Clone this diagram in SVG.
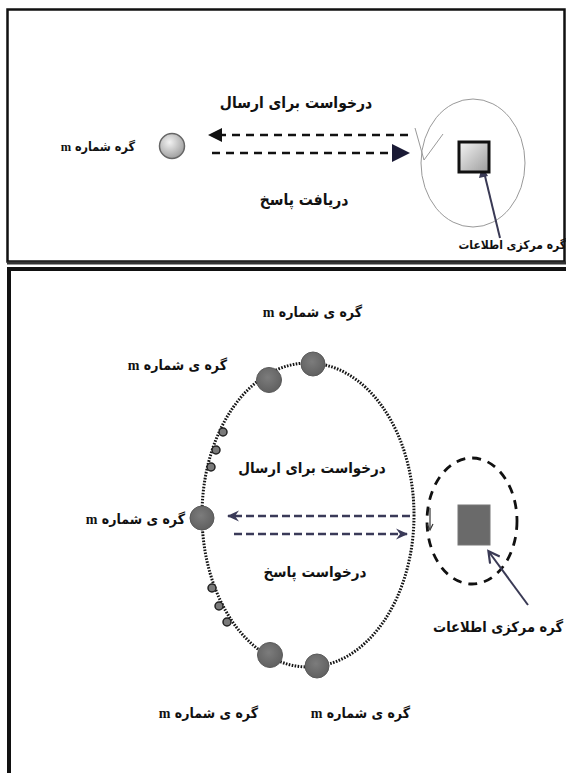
<svg xmlns="http://www.w3.org/2000/svg" width="566" height="773" viewBox="0 0 566 773">
<defs>
<style>
.fa{font-family:"DejaVu Sans Condensed","DejaVu Sans",sans-serif;font-weight:bold;fill:#111;direction:rtl}
.m{font-family:"Liberation Serif",serif;font-weight:bold}
.dash1{stroke:#111;stroke-width:2.5;stroke-dasharray:8 6;fill:none}
.dash2{stroke:#3a3a58;stroke-width:2.4;stroke-dasharray:8 4;fill:none}
.big{fill:url(#gNode);stroke:#5a5a5a;stroke-width:1}
.small{fill:#7a7a7a;stroke:#222;stroke-width:1.5}
</style>
<radialGradient id="gCirc" cx="0.4" cy="0.35" r="0.7">
<stop offset="0" stop-color="#f2f2f2"/><stop offset="1" stop-color="#9a9a9a"/>
</radialGradient>
<linearGradient id="gSq" x1="0" y1="0" x2="1" y2="1">
<stop offset="0" stop-color="#f5f5f5"/><stop offset="1" stop-color="#9c9c9c"/>
</linearGradient>
<radialGradient id="gNode" cx="0.45" cy="0.4" r="0.65">
<stop offset="0" stop-color="#7c7c7c"/><stop offset="1" stop-color="#5e5e5e"/>
</radialGradient>
<marker id="chev" markerWidth="14" markerHeight="14" refX="12" refY="7" orient="auto" markerUnits="userSpaceOnUse">
<path d="M1,1.5 L13,7 L1,12.5 L5,7 Z" fill="#3a3a58"/>
</marker>
<marker id="ptr" markerWidth="14" markerHeight="14" refX="11" refY="7" orient="auto" markerUnits="userSpaceOnUse">
<path d="M1,1 L12,7 L1,13" fill="none" stroke="#3a3a55" stroke-width="2.2"/>
</marker>
</defs>

<!-- panel frames -->
<g id="frames">
<rect x="7.5" y="9.5" width="557" height="252" fill="none" stroke="#111" stroke-width="2.5"/>
<line x1="7" y1="263" x2="566" y2="263" stroke="#333" stroke-width="3"/>
<line x1="7" y1="269" x2="566" y2="269" stroke="#111" stroke-width="4"/>
<line x1="9" y1="269" x2="9" y2="773" stroke="#111" stroke-width="4"/>
</g>

<!-- ===== top panel ===== -->
<g id="top-connectors">
<line class="dash1" x1="408" y1="135" x2="222" y2="135"/>
<path d="M208,135 L222,128 L222,142 Z" fill="#111"/>
<line class="dash1" x1="212" y1="153" x2="392" y2="153"/>
<path d="M410,153 L392,144 L392,162 Z" fill="#1a1a35"/>
<ellipse cx="473" cy="163" rx="52" ry="64" fill="none" stroke="#999" stroke-width="1"/>
<path d="M415,128 L424,160 L443,134" fill="none" stroke="#999" stroke-width="1"/>
<line x1="500" y1="238" x2="484" y2="172" stroke="#3a3a55" stroke-width="2"/>
<path d="M482,166 L479,178 L488,176 Z" fill="#3a3a55"/>
</g>
<g id="top-node-m">
<circle cx="172" cy="146" r="12.5" fill="url(#gCirc)" stroke="#666" stroke-width="1.5"/>
<text class="fa" x="135" y="151" font-size="12.5" text-anchor="start">گره شماره <tspan class="m">m</tspan></text>
</g>
<g id="top-center-node">
<rect x="459" y="142" width="30" height="30" fill="url(#gSq)" stroke="#111" stroke-width="3"/>
<text class="fa" x="566" y="249" font-size="12" text-anchor="start">گره مرکزی اطلاعات</text>
</g>
<g id="top-labels">
<text class="fa" x="296" y="108" font-size="15.5" text-anchor="middle">درخواست برای ارسال</text>
<text class="fa" x="304" y="205" font-size="15.5" text-anchor="middle">دریافت پاسخ</text>
</g>

<!-- ===== bottom panel ===== -->
<g id="bottom-connectors">
<ellipse cx="308" cy="515" rx="106" ry="152" fill="none" stroke="#151515" stroke-width="3" stroke-dasharray="1.6 1.4"/>
<ellipse cx="472" cy="521" rx="45" ry="63" fill="none" stroke="#111" stroke-width="2.8" stroke-dasharray="9 7"/>
<line class="dash2" x1="410" y1="516" x2="228" y2="516" marker-end="url(#chev)"/>
<line class="dash2" x1="234" y1="534" x2="407" y2="534" marker-end="url(#chev)"/>
<line x1="430" y1="508" x2="430" y2="528" stroke="#333" stroke-width="1.2"/>
<path d="M427,524 L430,530 L433,524" fill="none" stroke="#333" stroke-width="1.2"/>
<line x1="528" y1="605" x2="489" y2="552" stroke="#3a3a55" stroke-width="2" marker-end="url(#ptr)"/>
</g>
<g id="ring-nodes">
<circle class="big" cx="313" cy="364" r="12"/>
<circle class="big" cx="269" cy="380" r="12.5"/>
<circle class="big" cx="202" cy="518" r="12"/>
<circle class="big" cx="270" cy="655" r="12.5"/>
<circle class="big" cx="317" cy="666" r="12"/>
<circle class="small" cx="223" cy="432" r="4"/>
<circle class="small" cx="216" cy="450" r="4"/>
<circle class="small" cx="211" cy="467" r="4"/>
<circle class="small" cx="212" cy="588" r="4"/>
<circle class="small" cx="219" cy="606" r="4"/>
<circle class="small" cx="227" cy="622" r="4"/>
</g>
<g id="bottom-center-node">
<rect x="458" y="505" width="32" height="40" fill="#6a6a6a" stroke="#777" stroke-width="1"/>
<text class="fa" x="563" y="632" font-size="14.5" text-anchor="start">گره مرکزی اطلاعات</text>
</g>
<g id="bottom-labels">
<text class="fa" x="362" y="317" font-size="14" text-anchor="start">گره ی شماره <tspan class="m">m</tspan></text>
<text class="fa" x="227" y="370" font-size="14" text-anchor="start">گره ی شماره <tspan class="m">m</tspan></text>
<text class="fa" x="185" y="524" font-size="14" text-anchor="start">گره ی شماره <tspan class="m">m</tspan></text>
<text class="fa" x="258" y="718" font-size="14" text-anchor="start">گره ی شماره <tspan class="m">m</tspan></text>
<text class="fa" x="410" y="718" font-size="14" text-anchor="start">گره ی شماره <tspan class="m">m</tspan></text>
<text class="fa" x="312" y="473" font-size="15" text-anchor="middle">درخواست برای ارسال</text>
<text class="fa" x="315" y="577" font-size="15" text-anchor="middle">درخواست پاسخ</text>
</g>
</svg>
